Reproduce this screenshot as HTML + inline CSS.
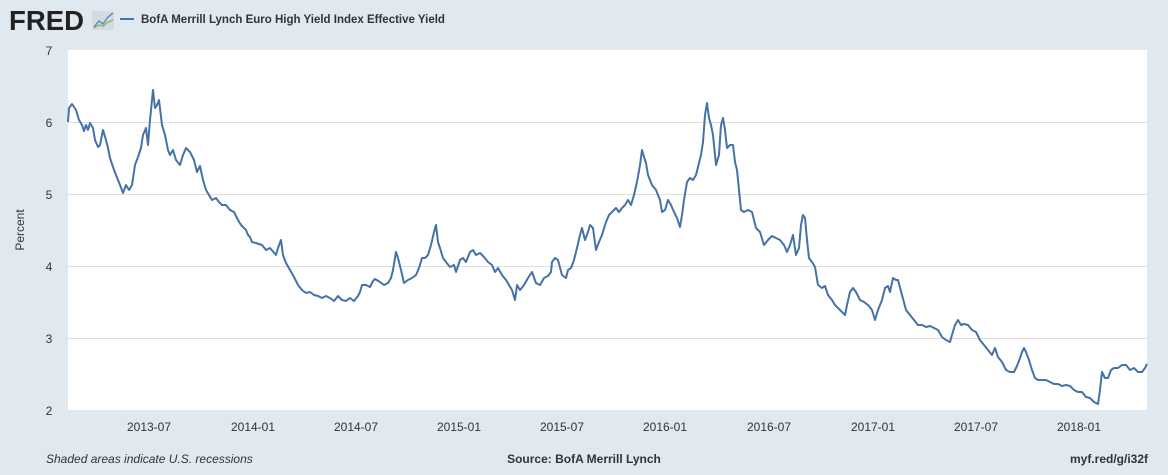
<!DOCTYPE html>
<html><head><meta charset="utf-8"><style>
body{margin:0;width:1168px;height:470px;background:#e1e9f0;font-family:"Liberation Sans",sans-serif;overflow:hidden}
</style></head><body>
<svg width="1168" height="470" xmlns="http://www.w3.org/2000/svg" font-family="Liberation Sans, sans-serif">
<rect width="1168" height="470" fill="#e1e9f0"/>
<text x="9" y="30" font-size="28" font-weight="bold" fill="#222" textLength="75" lengthAdjust="spacingAndGlyphs">FRED</text>
<rect x="92" y="11" width="22" height="19" fill="#d5dbe0"/>
<polyline points="94,27 99,21 103,24 108,17 113,13" fill="none" stroke="#5b8ec4" stroke-width="1.5"/>
<polyline points="94,28 99,25 103,26 108,22 113,20" fill="none" stroke="#8fb86a" stroke-width="1.5"/>
<line x1="120" y1="19" x2="134" y2="19" stroke="#4572a7" stroke-width="2"/>
<text x="141" y="23" font-size="11.5" font-weight="bold" fill="#333">BofA Merrill Lynch Euro High Yield Index Effective Yield</text>
<rect x="68" y="50" width="1079" height="360" fill="#fff"/>
<g stroke="#dedede" stroke-width="1">
<line x1="68" y1="122.5" x2="1147" y2="122.5"/><line x1="68" y1="194.5" x2="1147" y2="194.5"/>
<line x1="68" y1="266.5" x2="1147" y2="266.5"/><line x1="68" y1="338.5" x2="1147" y2="338.5"/>
</g>
<g font-size="12" fill="#333" text-anchor="middle">
<text x="49" y="55">7</text><text x="49" y="127">6</text><text x="49" y="199">5</text>
<text x="49" y="271">4</text><text x="49" y="343">3</text><text x="49" y="415">2</text>
<text x="149" y="431">2013-07</text><text x="253" y="431">2014-01</text><text x="356" y="431">2014-07</text>
<text x="459" y="431">2015-01</text><text x="562" y="431">2015-07</text><text x="665" y="431">2016-01</text>
<text x="769" y="431">2016-07</text><text x="873" y="431">2017-01</text><text x="976" y="431">2017-07</text>
<text x="1079" y="431">2018-01</text>
</g>
<text transform="translate(24,230) rotate(-90)" font-size="12" fill="#333" text-anchor="middle">Percent</text>
<polyline fill="none" stroke="#4572a7" stroke-width="2" stroke-linejoin="round" points="68,122 69,108 72,104 76,110 79,120 82,125 84,131 86,125 88,130 90,123 93,128 95,140 98,147 100,145 103,130 106,140 108,148 110,158 113,167 116,175 120,185 123,193 126,185 129,190 132,185 135,165 138,157 141,148 143,135 146,128 148,145 150,120 153,90 155,108 157,105 159,100 162,125 165,135 168,150 170,155 173,150 176,160 180,165 183,155 186,148 190,152 194,160 197,172 200,166 203,180 206,190 209,195 212,200 216,198 219,202 222,205 226,205 230,210 234,212 238,220 241,225 246,230 248,235 250,237 252,242 256,243 262,245 266,250 270,248 276,255 278,248 281,240 283,255 286,263 290,270 294,277 298,285 302,290 306,293 310,292 314,295 318,296 322,298 326,296 330,298 334,301 338,296 342,300 346,301 350,298 354,301 358,296 360,292 362,285 366,285 370,287 373,281 375,279 380,282 384,285 388,283 391,278 393,270 396,252 398,258 401,270 404,283 408,280 412,278 416,275 419,268 422,258 425,258 428,255 431,245 434,232 436,225 438,242 440,248 443,258 446,262 450,267 454,265 456,272 460,260 463,258 466,262 470,252 473,250 476,255 480,253 484,257 488,262 492,265 495,272 498,268 502,275 506,280 509,285 512,290 515,300 517,285 520,290 524,285 528,278 532,272 536,283 540,285 544,278 548,276 551,272 552,262 555,258 558,260 562,275 566,278 568,270 571,268 574,260 577,248 580,235 582,228 585,240 588,232 590,225 593,228 596,250 599,242 602,235 606,222 609,215 612,212 616,208 619,212 622,208 625,205 628,200 631,205 634,195 637,182 640,165 642,150 644,157 646,163 648,175 652,185 656,190 660,200 662,212 665,210 668,200 671,205 674,212 677,218 680,227 682,215 684,200 687,182 690,178 693,180 696,175 699,163 701,155 703,142 705,115 707,103 709,118 711,125 713,135 716,165 719,155 721,125 723,118 725,130 727,148 730,145 733,145 735,162 737,170 739,190 741,210 744,212 748,210 752,212 756,228 760,232 764,245 768,240 772,236 776,238 780,240 784,245 787,252 790,245 793,235 796,255 799,248 801,225 803,215 805,218 807,240 809,258 812,262 815,267 818,285 822,288 825,286 828,295 832,300 835,305 838,308 842,312 845,315 847,305 850,292 853,288 856,292 860,300 864,302 868,305 872,310 875,320 878,310 882,300 885,288 888,286 890,292 893,278 896,280 898,280 902,295 906,310 910,315 914,320 918,325 922,325 926,327 930,326 934,328 938,330 942,337 946,340 950,342 952,335 955,325 958,320 961,325 964,324 968,325 972,330 976,332 980,340 984,345 988,350 992,355 995,348 998,357 1002,362 1006,370 1010,372 1014,372 1017,366 1020,358 1022,352 1024,348 1026,352 1029,360 1032,370 1035,378 1038,380 1042,380 1046,380 1050,382 1054,384 1058,384 1062,386 1066,385 1070,386 1074,390 1078,392 1082,392 1086,397 1090,398 1094,402 1098,404 1100,390 1102,372 1105,378 1108,378 1111,370 1114,368 1118,368 1122,365 1126,365 1130,370 1134,368 1138,372 1142,372 1145,368 1147,364"/>
<text x="46" y="463" font-size="12" font-style="italic" fill="#333">Shaded areas indicate U.S. recessions</text>
<text x="584" y="463" font-size="12" font-weight="bold" fill="#333" text-anchor="middle">Source: BofA Merrill Lynch</text>
<text x="1148" y="463" font-size="12" font-weight="bold" fill="#333" text-anchor="end">myf.red/g/i32f</text>
</svg>
</body></html>
